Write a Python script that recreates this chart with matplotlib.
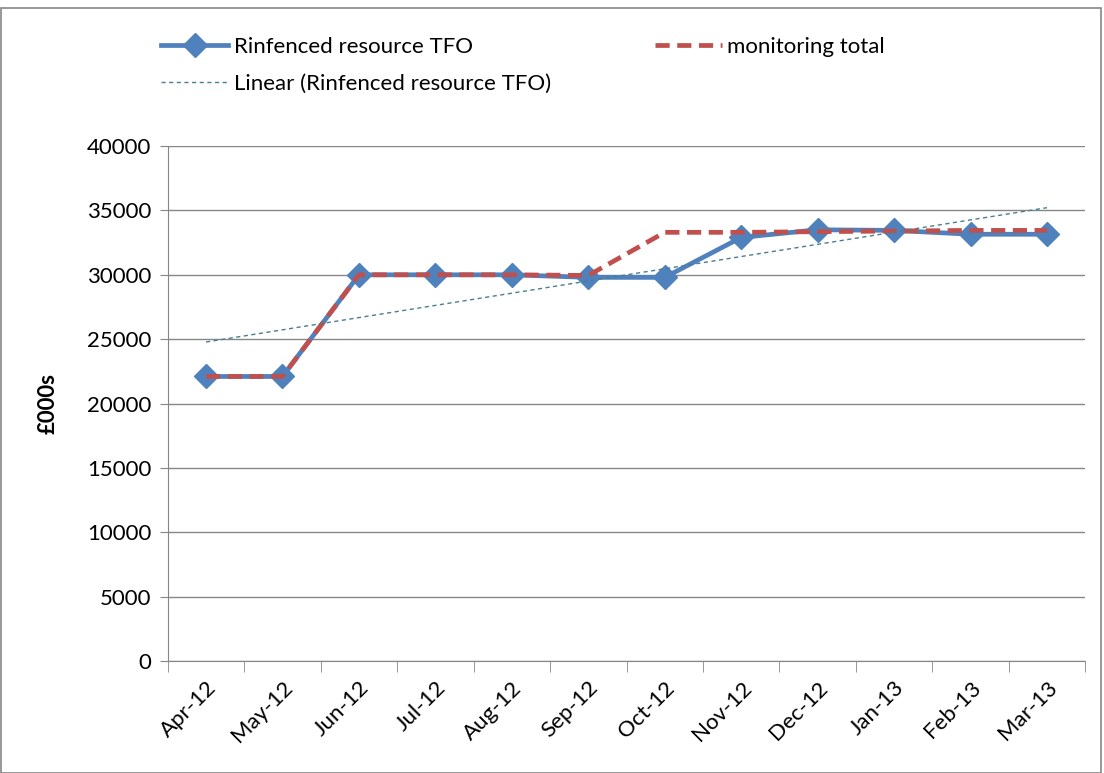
import numpy as np
import matplotlib
matplotlib.use("Agg")
import matplotlib.pyplot as plt
from matplotlib.patches import Rectangle

plt.rcParams['font.family'] = ['Lato', 'DejaVu Sans']

# data
months = ["Apr-12", "May-12", "Jun-12", "Jul-12", "Aug-12", "Sep-12",
          "Oct-12", "Nov-12", "Dec-12", "Jan-13", "Feb-13", "Mar-13"]
ringfenced = [22100, 22100, 30000, 30000, 30000, 29800,
              29800, 32900, 33500, 33450, 33150, 33150]
monitoring = [22100, 22100, 30000, 30000, 30000, 29950,
              33300, 33300, 33350, 33400, 33450, 33450]

x = np.arange(len(months))
# Excel style linear trendline of the ringfenced series
slope, icpt = np.polyfit(x, ringfenced, 1)
trend = slope * x + icpt

fs = 16

fig = plt.figure(figsize=(11.04, 7.73), dpi=100)
ax = fig.add_axes([0.152, 0.145, 0.831, 0.666])

# outer chart border
fig.patches.append(Rectangle((0.001, 0.0), 0.996, 0.99, transform=fig.transFigure,
                             fill=False, edgecolor="#868686", linewidth=1.2))

blue, = ax.plot(x, ringfenced, color="#4F81BD", linewidth=3.4, marker="D",
                markersize=12.5, label="Rinfenced resource TFO", zorder=3)
red, = ax.plot(x, monitoring, color="#C0504D", linewidth=3.4, linestyle=(0, (3, 1.6)),
               label="monitoring total", zorder=4)
lin, = ax.plot(x, trend, color="#4A7E8E", linewidth=1.0, linestyle=(0, (3, 2.5)),
               label="Linear (Rinfenced resource TFO)", zorder=5)

ax.set_xlim(-0.5, len(months) - 0.5)
ax.set_ylim(0, 40000)
ax.set_yticks(np.arange(0, 40001, 5000))
ax.yaxis.grid(True, color="#868686", linewidth=1.0)
ax.set_axisbelow(True)

ax.set_xticks(x)
ax.set_xticklabels(months, rotation=45, ha="right", rotation_mode="anchor", fontsize=fs)
ax.set_xticks(np.arange(-0.5, len(months)), minor=True)
ax.tick_params(axis="x", which="major", length=0, pad=12)
ax.tick_params(axis="x", which="minor", length=8, color="#868686")
ax.tick_params(axis="y", length=6, color="#868686", labelsize=fs, pad=6)

for s in ["top", "right"]:
    ax.spines[s].set_visible(False)
for s in ["left", "bottom"]:
    ax.spines[s].set_color("#868686")

ax.set_ylabel("£000s", fontsize=fs, fontweight="bold", labelpad=20)

fig.legend(handles=[blue, lin, red], loc="upper left", bbox_to_anchor=(0.128, 0.978),
           ncol=2, frameon=False, fontsize=fs, handlelength=3.0,
           columnspacing=4.7, labelspacing=0.75, handletextpad=0.25)

plt.savefig("out.png", dpi=100)
